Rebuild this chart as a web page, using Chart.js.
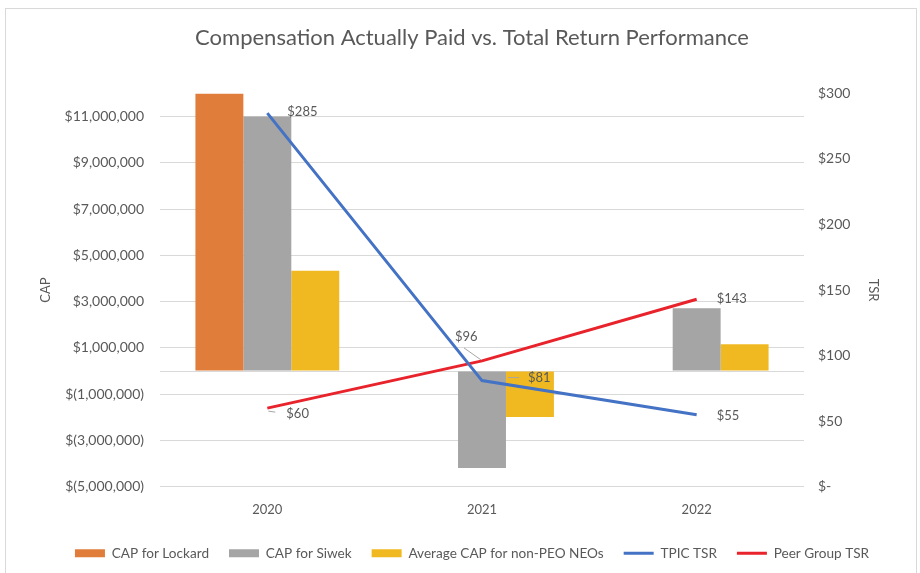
<!DOCTYPE html>
<html>
<head>
<meta charset="utf-8">
<script src="https://cdn.jsdelivr.net/npm/chart.js@4.4.1/dist/chart.umd.min.js"></script>
<style>
    html, body { margin: 0; padding: 0; background: #ffffff; }
    #frame { position: absolute; left: 5px; top: 8px; width: 912px; height: 570px; border: 1px solid #d9d9d9; box-sizing: border-box; }
    #wrap { position: absolute; left: 0; top: 0; width: 920px; height: 573px; }
</style>
</head>
<body>
<div id="frame"></div>
<div id="wrap"><canvas id="chart"></canvas></div>
<script>
const years = ['2020', '2021', '2022'];
const capLockard = [12000000, null, null];
const capSiwek = [11000000, -4190000, 2720000];
const capAvgNonPeo = [4340000, -1980000, 1160000];
const tpicTsr = [285, 81, 55];
const peerTsr = [60, 96, 143];
const capTicks = [-5000000, -3000000, -1000000, 0, 1000000, 3000000, 5000000, 7000000, 9000000, 11000000];
const tsrTicks = [0, 50, 100, 150, 200, 250, 300];

const FONT = 'Lato, "Open Sans", sans-serif';
const GREY_TEXT = '#595959';

function money(v) {
    const s = Math.abs(v).toLocaleString('en-US');
    return v < 0 ? '$(' + s + ')' : '$' + s;
}

// offsets of the value labels next to the line points: [dx, dy, leader]
const labelPlacement = {
    3: [[20, -1, null], [46, -3, [26, -3, 37, -3]], [20, 1, null]],
    4: [[19, 6, [1, 3, 8, 4]], [-27, -24, [-18, -13, -1, -1]], [20, 0, null]]
};

const valueLabels = {
    id: 'valueLabels',
    afterDatasetsDraw(chart) {
        const ctx = chart.ctx;
        ctx.save();
        ctx.font = '13px ' + FONT;
        ctx.fillStyle = GREY_TEXT;
        ctx.strokeStyle = '#a6a6a6';
        ctx.lineWidth = 1;
        ctx.textBaseline = 'middle';
        ctx.textAlign = 'left';
        Object.keys(labelPlacement).forEach(idx => {
            const meta = chart.getDatasetMeta(+idx);
            const data = chart.data.datasets[idx].data;
            meta.data.forEach((pt, i) => {
                const [dx, dy, lead] = labelPlacement[idx][i];
                if (lead) {
                    ctx.beginPath();
                    ctx.moveTo(pt.x + lead[0], pt.y + lead[1]);
                    ctx.lineTo(pt.x + lead[2], pt.y + lead[3]);
                    ctx.stroke();
                }
                ctx.fillText('$' + data[i], pt.x + dx, pt.y + dy);
            });
        });
        ctx.restore();
    }
};

new Chart(document.getElementById('chart'), {
    type: 'bar',
    data: {
        labels: years,
        datasets: [
            { label: 'CAP for Lockard', data: capLockard, backgroundColor: '#e07d3b', pointStyle: 'rect', yAxisID: 'y', order: 1 },
            { label: 'CAP for Siwek', data: capSiwek, backgroundColor: '#a5a5a5', pointStyle: 'rect', yAxisID: 'y', order: 1 },
            { label: 'Average CAP for non-PEO NEOs', data: capAvgNonPeo, backgroundColor: '#f0b921', pointStyle: 'rect', yAxisID: 'y', order: 1 },
            {
                type: 'line', label: 'TPIC TSR', data: tpicTsr, borderColor: '#4472c4', backgroundColor: '#4472c4',
                borderWidth: 3, pointRadius: 0, pointStyle: 'line', yAxisID: 'y1', order: 0
            },
            {
                type: 'line', label: 'Peer Group TSR', data: peerTsr, borderColor: '#e8232b', backgroundColor: '#e8232b',
                borderWidth: 3, pointRadius: 0, pointStyle: 'line', yAxisID: 'y1', order: 0
            }
        ]
    },
    options: {
        responsive: true,
        maintainAspectRatio: false,
        animation: false,
        datasets: {
            bar: { categoryPercentage: 0.67, barPercentage: 1.0 }
        },
        layout: { padding: { left: 30, right: 6, top: 14, bottom: 3 } },
        plugins: {
            title: {
                display: true,
                text: 'Compensation Actually Paid vs. Total Return Performance',
                color: GREY_TEXT,
                font: { family: FONT, size: 22, weight: 'normal' },
                padding: { top: 11, bottom: 42 }
            },
            legend: {
                position: 'bottom',
                labels: {
                    color: GREY_TEXT,
                    font: { family: FONT, size: 13.6 },
                    usePointStyle: true,
                    pointStyleWidth: 30,
                    boxHeight: 8,
                    padding: 20,
                    sort: (a, b) => a.datasetIndex - b.datasetIndex
                }
            },
            tooltip: { enabled: false }
        },
        scales: {
            x: {
                grid: { display: false },
                border: { display: false },
                afterFit: axis => { axis.height += 2; },
                ticks: { color: GREY_TEXT, font: { family: FONT, size: 13 }, padding: 7 }
            },
            y: {
                position: 'left',
                min: -5000000,
                max: 12000000,
                afterBuildTicks: axis => { axis.ticks = capTicks.map(v => ({ value: v })); },
                afterFit: axis => { axis.width = 130; },
                ticks: {
                    color: GREY_TEXT,
                    font: { family: FONT, size: 14 },
                    padding: 16,
                    callback: v => (v === 0 ? '' : money(v))
                },
                grid: { color: '#d9d9d9', drawTicks: false },
                border: { display: false },
                title: { display: true, text: 'CAP', color: GREY_TEXT, font: { family: FONT, size: 13 }, padding: { top: 8, bottom: 4 } }
            },
            y1: {
                position: 'right',
                min: 0,
                max: 300,
                afterBuildTicks: axis => { axis.ticks = tsrTicks.map(v => ({ value: v })); },
                afterFit: axis => { axis.width = 110; },
                ticks: {
                    color: GREY_TEXT,
                    font: { family: FONT, size: 14 },
                    padding: 6,
                    callback: v => (v === 0 ? '$-' : '$' + v)
                },
                grid: { display: false },
                border: { display: false },
                title: { display: true, text: 'TSR', color: GREY_TEXT, font: { family: FONT, size: 13 }, padding: { top: 33, bottom: 4 } }
            }
        }
    },
    plugins: [valueLabels]
});
</script>
</body>
</html>
